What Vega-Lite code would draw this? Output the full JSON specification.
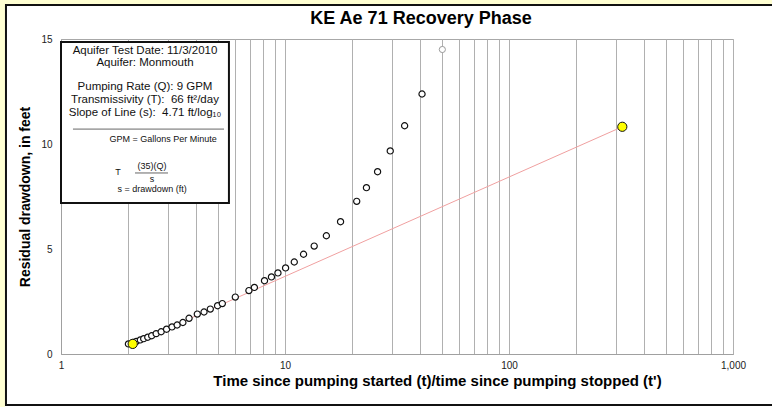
{
  "$schema": "https://vega.github.io/schema/vega-lite/v6.json",
  "width": 672,
  "height": 315,
  "autosize": {"type": "none"},
  "padding": {"left": 61, "top": 39, "right": 39, "bottom": 53},
  "background": "white",
  "config": {
    "font": "Liberation Sans",
    "view": {"stroke": "#a8a8a8", "strokeWidth": 1}
  },
  "title": {
    "text": "KE Ae 71 Recovery Phase",
    "fontSize": 18,
    "fontWeight": "bold",
    "font": "Liberation Sans",
    "color": "#000000",
    "anchor": "middle",
    "dx": 24,
    "offset": 0,
    "dy": 33
  },
  "datasets": {
    "obs": [
      {"ratio": 2.0, "drawdown": 0.48}, {"ratio": 2.1, "drawdown": 0.55}, {"ratio": 2.17, "drawdown": 0.6},
      {"ratio": 2.26, "drawdown": 0.67}, {"ratio": 2.34, "drawdown": 0.73}, {"ratio": 2.44, "drawdown": 0.8},
      {"ratio": 2.54, "drawdown": 0.87}, {"ratio": 2.66, "drawdown": 0.97}, {"ratio": 2.8, "drawdown": 1.06},
      {"ratio": 2.96, "drawdown": 1.18}, {"ratio": 3.13, "drawdown": 1.29}, {"ratio": 3.3, "drawdown": 1.38},
      {"ratio": 3.5, "drawdown": 1.5}, {"ratio": 3.73, "drawdown": 1.7}, {"ratio": 4.06, "drawdown": 1.9},
      {"ratio": 4.35, "drawdown": 2.0}, {"ratio": 4.64, "drawdown": 2.14}, {"ratio": 5.0, "drawdown": 2.3},
      {"ratio": 5.25, "drawdown": 2.4}, {"ratio": 6.0, "drawdown": 2.71}, {"ratio": 6.9, "drawdown": 3.02},
      {"ratio": 7.3, "drawdown": 3.17}, {"ratio": 8.1, "drawdown": 3.49}, {"ratio": 8.7, "drawdown": 3.67},
      {"ratio": 9.3, "drawdown": 3.86}, {"ratio": 10.06, "drawdown": 4.1}, {"ratio": 11.0, "drawdown": 4.38},
      {"ratio": 12.1, "drawdown": 4.75}, {"ratio": 13.5, "drawdown": 5.14}, {"ratio": 15.3, "drawdown": 5.63},
      {"ratio": 17.7, "drawdown": 6.3}, {"ratio": 20.9, "drawdown": 7.27}, {"ratio": 23.1, "drawdown": 7.92},
      {"ratio": 25.9, "drawdown": 8.68}, {"ratio": 29.5, "drawdown": 9.67}, {"ratio": 34.2, "drawdown": 10.87},
      {"ratio": 40.9, "drawdown": 12.38}
    ],
    "outlier": [{"ratio": 50.4, "drawdown": 14.5}],
    "fit": [{"ratio": 2.09, "drawdown": 0.48}, {"ratio": 320.5, "drawdown": 10.82}],
    "frame": [
      {"kind": "outer", "x": 0.534, "x2": 5570, "y": 16.857, "y2": -6.95},
      {"kind": "border", "x": 0.568, "x2": 5570, "y": 16.62, "y2": -2.43}
    ],
    "box": [{"x": 1.0, "x2": 5.62, "y": 14.857, "y2": 7.19}],
    "rules": [
      {"x": 1.131, "x2": 5.343, "y": 10.71},
      {"x": 2.14, "x2": 3.004, "y": 8.62}
    ],
    "notes": [
      {"kind": "main", "label": "Aquifer Test Date: 11/3/2010", "x": 2.371, "y": 14.45},
      {"kind": "main", "label": "Aquifer: Monmouth", "x": 2.371, "y": 13.85},
      {"kind": "main", "label": "Pumping Rate (Q): 9 GPM", "x": 2.371, "y": 12.7},
      {"kind": "main", "label": "Transmissivity (T): \u00a066 ft²/day", "x": 2.371, "y": 12.08},
      {"kind": "main", "label": "Slope of Line (s): \u00a04.71 ft/log₁₀", "x": 2.371, "y": 11.48},
      {"kind": "small", "label": "GPM = Gallons Per Minute", "x": 2.854, "y": 10.24},
      {"kind": "small", "label": "T", "x": 1.797, "y": 8.667},
      {"kind": "small", "label": "(35)(Q)", "x": 2.549, "y": 8.95},
      {"kind": "small", "label": "s", "x": 2.549, "y": 8.333},
      {"kind": "small", "label": "s = drawdown (ft)", "x": 2.549, "y": 7.857}
    ]
  },
  "encoding": {
    "x": {
      "field": "ratio", "type": "quantitative",
      "scale": {"type": "log", "domain": [1, 1000], "nice": false},
      "axis": {
        "title": "Time since pumping started (t)/time since pumping stopped (t')",
        "titleFont": "Liberation Sans", "titleFontSize": 15, "titleFontWeight": "bold",
        "titleColor": "#000000", "titlePadding": 3, "titleX": 376,
        "values": [1,2,3,4,5,6,7,8,9,10,20,30,40,50,60,70,80,90,100,200,300,400,500,600,700,800,900,1000],
        "labelExpr": "indexof([1,10,100,1000], datum.value) >= 0 ? format(datum.value, ',') : ''",
        "labelFontSize": 10, "labelColor": "#222222", "labelPadding": 6, "labelFlush": false,
        "labelOverlap": false,
        "ticks": false, "grid": true, "gridColor": "#b0b0b0", "gridWidth": 1,
        "domainColor": "#a0a0a0"
      }
    },
    "y": {
      "field": "drawdown", "type": "quantitative",
      "scale": {"domain": [0, 15], "nice": false, "zero": false},
      "axis": {
        "title": "Residual drawdown, in feet",
        "titleFont": "Liberation Sans", "titleFontSize": 14, "titleFontWeight": "bold",
        "titleColor": "#000000", "titlePadding": 8,
        "values": [0, 5, 10, 15], "grid": false,
        "labelFontSize": 10, "labelColor": "#222222", "labelPadding": 9,
        "ticks": false,
        "domainColor": "#a0a0a0"
      }
    }
  },
  "layer": [
    {
      "data": {"name": "frame"},
      "transform": [{"filter": "datum.kind == 'outer'"}],
      "mark": {"type": "rect", "fill": null, "stroke": "#ffffd2", "strokeWidth": 10, "clip": false},
      "encoding": {
        "x": {"field": "x", "type": "quantitative"},
        "x2": {"field": "x2"},
        "y": {"field": "y", "type": "quantitative"},
        "y2": {"field": "y2"}
      }
    },
    {
      "data": {"name": "frame"},
      "transform": [{"filter": "datum.kind == 'border'"}],
      "mark": {"type": "rect", "fill": null, "stroke": "#111111", "strokeWidth": 2, "clip": false},
      "encoding": {
        "x": {"field": "x", "type": "quantitative"},
        "x2": {"field": "x2"},
        "y": {"field": "y", "type": "quantitative"},
        "y2": {"field": "y2"}
      }
    },
    {
      "data": {"name": "fit"},
      "mark": {"type": "line", "color": "#f0a0a0", "strokeWidth": 1},
      "encoding": {}
    },
    {
      "data": {"name": "obs"},
      "mark": {"type": "point", "shape": "circle", "filled": false, "fill": "white", "fillOpacity": 1, "stroke": "#111111", "strokeWidth": 1.2, "size": 38, "opacity": 1},
      "encoding": {}
    },
    {
      "data": {"name": "outlier"},
      "mark": {"type": "point", "shape": "circle", "filled": false, "fill": "white", "fillOpacity": 1, "stroke": "#9a9a9a", "strokeWidth": 1, "size": 38, "opacity": 1},
      "encoding": {}
    },
    {
      "data": {"name": "fit"},
      "mark": {"type": "point", "shape": "circle", "filled": true, "fill": "#ffff00", "stroke": "#111111", "strokeWidth": 1, "size": 85, "opacity": 1},
      "encoding": {}
    },
    {
      "data": {"name": "box"},
      "mark": {"type": "rect", "fill": "white", "stroke": "#111111", "strokeWidth": 2},
      "encoding": {
        "x": {"field": "x", "type": "quantitative"},
        "x2": {"field": "x2"},
        "y": {"field": "y", "type": "quantitative"},
        "y2": {"field": "y2"}
      }
    },
    {
      "data": {"name": "rules"},
      "mark": {"type": "rule", "color": "#666666", "strokeWidth": 1},
      "encoding": {
        "x": {"field": "x", "type": "quantitative"},
        "x2": {"field": "x2"},
        "y": {"field": "y", "type": "quantitative"}
      }
    },
    {
      "data": {"name": "notes"},
      "transform": [{"filter": "datum.kind == 'main'"}],
      "mark": {"type": "text", "font": "Liberation Sans", "fontSize": 11.5, "color": "#111111", "align": "center", "baseline": "middle"},
      "encoding": {
        "x": {"field": "x", "type": "quantitative"},
        "y": {"field": "y", "type": "quantitative"},
        "text": {"field": "label"}
      }
    },
    {
      "data": {"name": "notes"},
      "transform": [{"filter": "datum.kind == 'small'"}],
      "mark": {"type": "text", "font": "Liberation Sans", "fontSize": 9, "color": "#111111", "align": "center", "baseline": "middle"},
      "encoding": {
        "x": {"field": "x", "type": "quantitative"},
        "y": {"field": "y", "type": "quantitative"},
        "text": {"field": "label"}
      }
    }
  ]
}
